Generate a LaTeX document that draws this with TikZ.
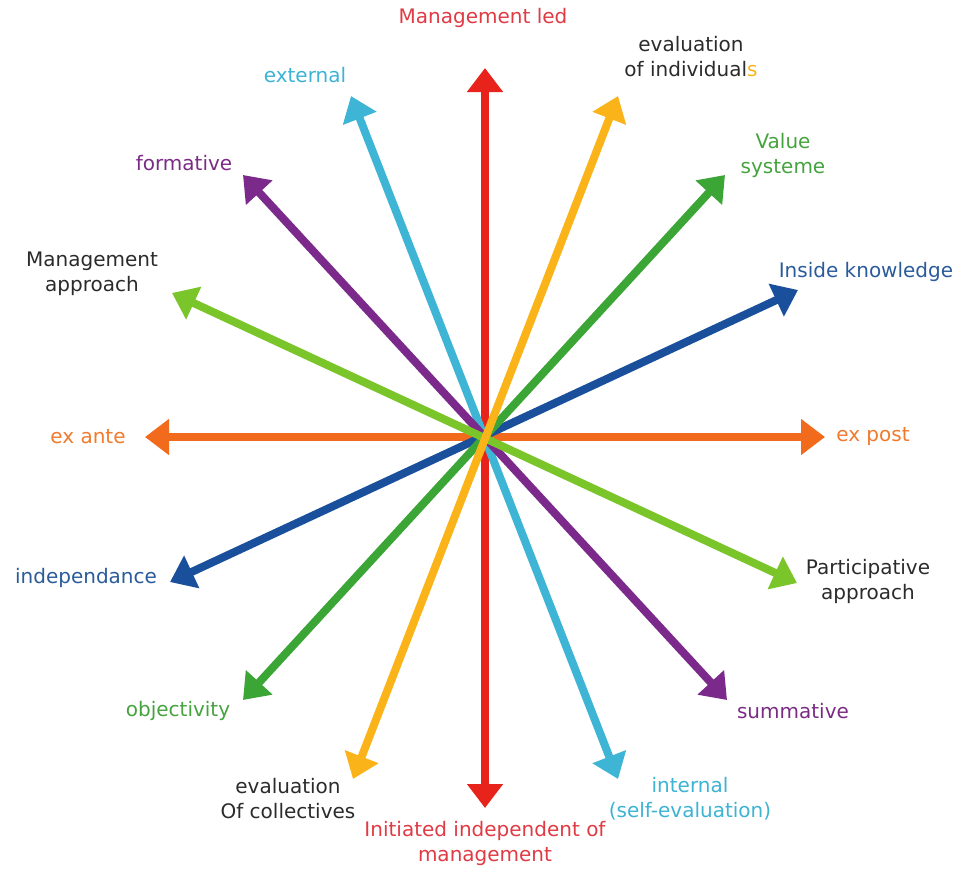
\documentclass[tikz,border=0pt]{standalone}
\usepackage{fontspec}
\setmainfont{DejaVu Sans}
\usetikzlibrary{arrows.meta}

\definecolor{cred}{HTML}{E8231B}
\definecolor{corange}{HTML}{F26B1D}
\definecolor{cyellow}{HTML}{FBB31A}
\definecolor{cdgreen}{HTML}{3BA535}
\definecolor{cblue}{HTML}{1A4F9C}
\definecolor{clgreen}{HTML}{7AC52A}
\definecolor{cpurple}{HTML}{7B2A8C}
\definecolor{ccyan}{HTML}{3FB5D6}
\definecolor{tred}{HTML}{E03A44}
\definecolor{tblack}{HTML}{2B2B2B}
\definecolor{tgreen}{HTML}{45A33E}
\definecolor{tblue}{HTML}{2A5B9A}
\definecolor{torange}{HTML}{F07A2E}
\definecolor{tpurple}{HTML}{7A2C84}
\definecolor{tcyan}{HTML}{3DB3D4}

\begin{document}
\begin{tikzpicture}[x=0.75pt,y=-0.75pt]
                \tikzstyle{axis}=[line width=6pt,{Triangle[length=18pt,width=26pt]}-{Triangle[length=18pt,width=26pt]}]
                \tikzstyle{lbl}=[font=\fontsize{15}{18.75}\selectfont,align=center,inner sep=0pt]
                \useasboundingbox (0,0) rectangle (958,869);

                % arrows, bottom layer first
                \foreach \col/\ax/\ay/\bx/\by in {cred/485/68/485/808, corange/145/437/825/437,
                        ccyan/351/96/618/779, cpurple/243/175/727/700, cblue/170/582/798/290,
                        cdgreen/243/700/725/175, clgreen/172/293/797/583, cyellow/353/779/618/96}
                {
                        \coordinate (\col-a) at (\ax,\ay);
                        \coordinate (\col-b) at (\bx,\by);
                        \draw[axis,\col] (\col-a) -- (\col-b);
                }

                % one-line labels
                \foreach \name/\col/\x/\y/\txt in {top/tred/483/18/Management led, inside/tblue/866/272/Inside knowledge,
                        post/torange/873/437/ex post, summ/tpurple/793/711/summative, obj/tgreen/178/711/objectivity,
                        indep/tblue/86/578/independance, ante/torange/88/437/ex ante, form/tpurple/184/163/formative,
                        ext/tcyan/305/75/external}
                        \node[lbl,text=\col] (L-\name) at (\x,\y) {\txt};

                % two-line labels
                \node[lbl,text=tblack] (L-indiv) at (691,57) {evaluation\\of individual\textcolor{cyellow}{s}};
                \node[lbl,text=tgreen] (L-value) at (783,155) {Value\\systeme};
                \node[lbl,text=tblack] (L-part) at (868,581) {Participative\\approach};
                \node[lbl,text=tcyan] (L-int) at (690,799) {internal\\(self-evaluation)};
                \node[lbl,text=tred] (L-bottom) at (485,843) {Initiated independent of\\management};
                \node[lbl,text=tblack] (L-coll) at (288,799) {evaluation\\Of collectives};
                \node[lbl,text=tblack] (L-mgmt) at (92,274) {Management\\approach};
\end{tikzpicture}
\end{document}
